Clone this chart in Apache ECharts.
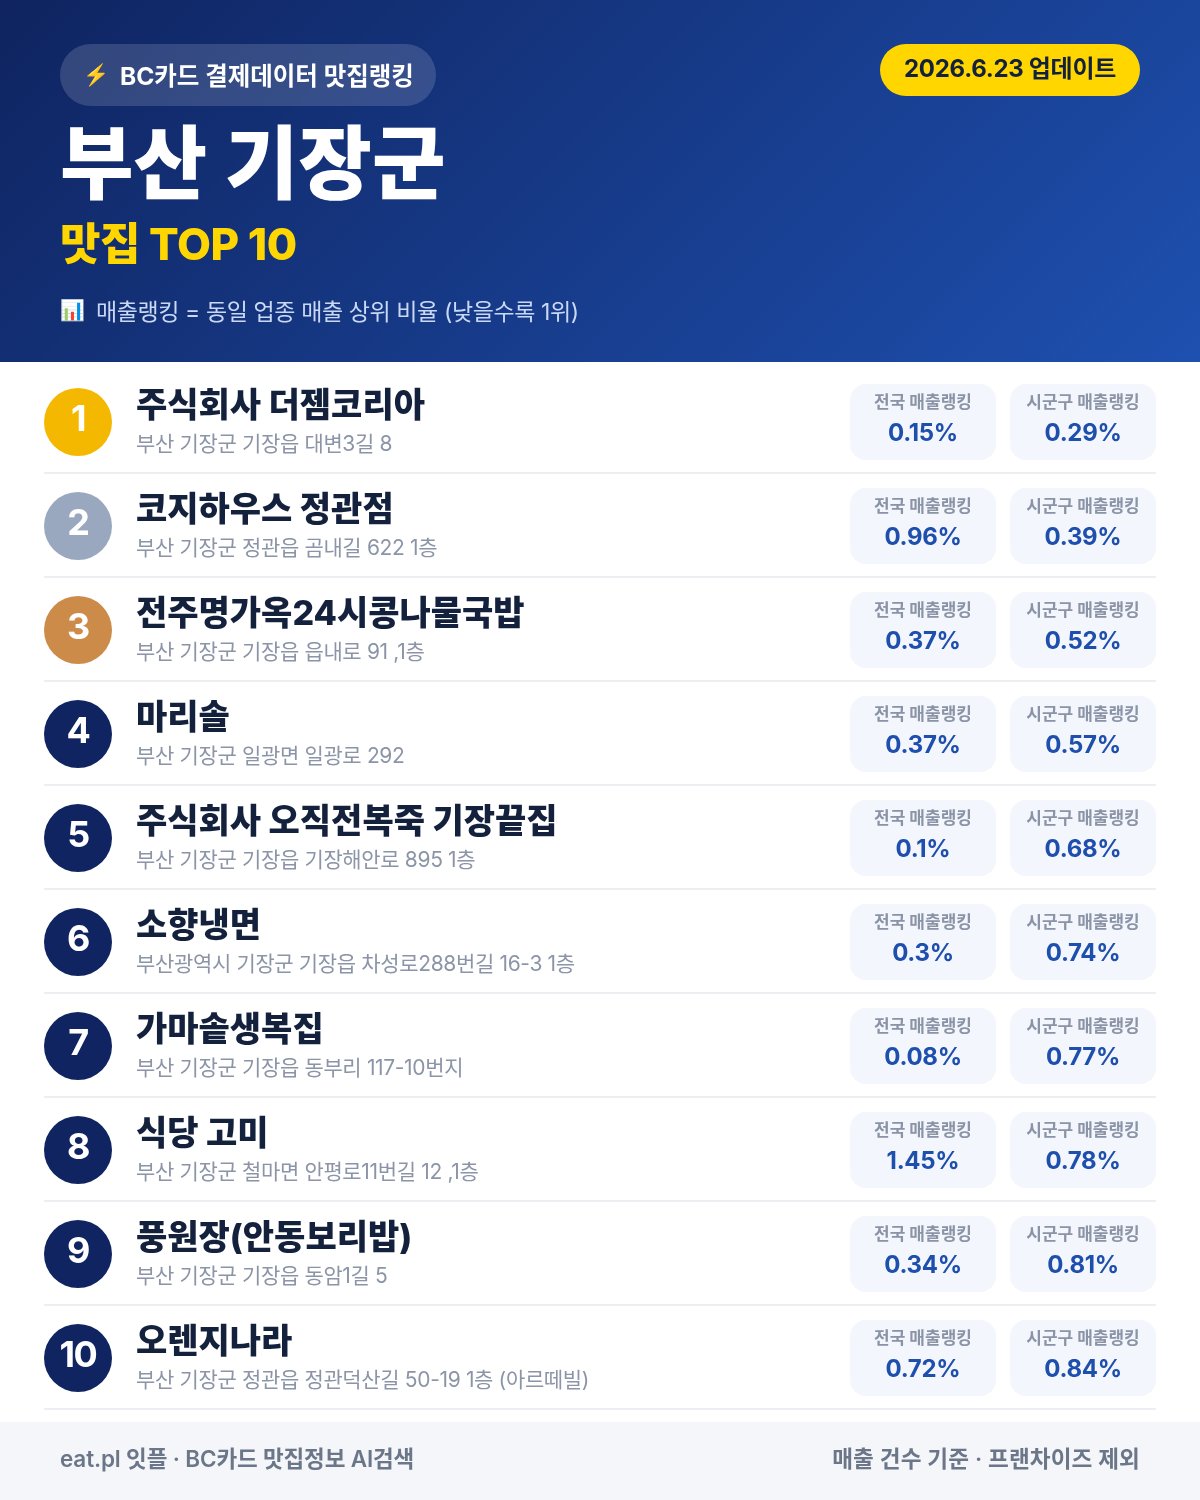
<!DOCTYPE html>
<html><head><meta charset="utf-8">
<style>html,body{margin:0;padding:0;background:#fff}#c{width:1200px;height:1500px}</style>
<script src="https://cdn.jsdelivr.net/npm/echarts@6/dist/echarts.min.js"></script>
</head><body><div id="c"></div>
<script>
const ranks = ['1','2','3','4','5','6','7','8','9','10'];
const names = ['주식회사 더젬코리아','코지하우스 정관점','전주명가옥24시콩나물국밥','마리솔','주식회사 오직전복죽 기장끝집','소향냉면','가마솥생복집','식당 고미','풍원장(안동보리밥)','오렌지나라'];
const addresses = ['부산 기장군 기장읍 대변3길 8','부산 기장군 정관읍 곰내길 622 1층','부산 기장군 기장읍 읍내로 91 ,1층','부산 기장군 일광면 일광로 292','부산 기장군 기장읍 기장해안로 895 1층','부산광역시 기장군 기장읍 차성로288번길 16-3 1층','부산 기장군 기장읍 동부리 117-10번지','부산 기장군 철마면 안평로11번길 12 ,1층','부산 기장군 기장읍 동암1길 5','부산 기장군 정관읍 정관덕산길 50-19 1층 (아르떼빌)'];
const nationalRank = ['0.15%','0.96%','0.37%','0.37%','0.1%','0.3%','0.08%','1.45%','0.34%','0.72%'];
const districtRank = ['0.29%','0.39%','0.52%','0.57%','0.68%','0.74%','0.77%','0.78%','0.81%','0.84%'];
const badgeColors = ['#F5B800','#9AA8BF','#CD8B4A','#0F2460','#0F2460','#0F2460','#0F2460','#0F2460','#0F2460','#0F2460'];
const FONT = 'Inter,"Noto Sans CJK KR",sans-serif';

// tracking per text size, as in the reference
const tracking = { 36: -1.4, 44: -0.5, 24: -0.3, 23: -0.4, 22.5: -0.15, 22.6: 0.1, 21: -0.35 };
const _ft = CanvasRenderingContext2D.prototype.fillText;
CanvasRenderingContext2D.prototype.fillText = function (t, x, y, m) {
  const mt = /(\d+(?:\.\d+)?)px/.exec(this.font);
  const s = mt ? parseFloat(mt[1]) : 12;
  this.letterSpacing = (tracking[s] || 0) + 'px';
  return m === undefined ? _ft.call(this, t, x, y) : _ft.call(this, t, x, y, m);
};

function txt(x, y, text, size, weight, fill, align) {
  return { type: 'text', x, y, style: { text, x: 0, y: 0, fontFamily: FONT, fontSize: size, fontWeight: weight, fill, align: align || 'left', verticalAlign: 'middle' } };
}
function pill(x, cy, label, value) {
  return { type: 'group', children: [
    { type: 'rect', shape: { x, y: cy - 38, width: 146, height: 76, r: 16 }, style: { fill: '#F3F6FD' } },
    txt(x + 73, cy - 19, label, 17, 700, '#8A94A6', 'center'),
    txt(x + 73, cy + 12, value, 24, 700, '#1E4FAD', 'center')
  ]};
}
const chart = echarts.init(document.getElementById('c'), null, { width: 1200, height: 1500, renderer: 'canvas' });
chart.setOption({
  animation: false,
  backgroundColor: '#fff',
  grid: { left: 0, top: 370, width: 1200, height: 1040 },
  xAxis: { type: 'value', min: 0, max: 1200, show: false },
  yAxis: { type: 'category', data: ranks, inverse: true, show: false },
  graphic: [
    { type: 'rect', z: 0, shape: { x: 0, y: 0, width: 1200, height: 362 },
      style: { fill: new echarts.graphic.LinearGradient(209.5, -209.5, 990.5, 571.5, [{ offset: 0, color: '#0F2460' }, { offset: 1, color: '#1E50B0' }], true) } },
    { type: 'rect', z: 1, shape: { x: 60, y: 44, width: 376, height: 62, r: 31 }, style: { fill: 'rgba(255,255,255,0.15)' } },
    Object.assign(txt(83, 76, '⚡', 21, 400, '#FFD600'), { z: 2 }),
    Object.assign(txt(120, 78, 'BC카드 결제데이터 맛집랭킹', 24.5, 700, '#fff'), { z: 2 }),
    { type: 'rect', z: 1, shape: { x: 880, y: 44, width: 260, height: 52, r: 26 }, style: { fill: '#FFD600' } },
    Object.assign(txt(1010, 70, '2026.6.23 업데이트', 24, 700, '#14213D', 'center'), { z: 2 }),
    Object.assign(txt(60, 168, '부산 기장군', 80, 800, '#fff'), { z: 2 }),
    Object.assign(txt(60, 247, '맛집 TOP 10', 44, 800, '#FFD600'), { z: 2 }),
    Object.assign(txt(60, 311, '📊', 20, 400, '#fff'), { z: 2 }),
    Object.assign(txt(96, 313, '매출랭킹 = 동일 업종 매출 상위 비율 (낮을수록 1위)', 23, 400, '#C9D8F5'), { z: 2 }),
    { type: 'rect', z: 0, shape: { x: 0, y: 1422, width: 1200, height: 78 }, style: { fill: '#F4F6FA' } },
    Object.assign(txt(60, 1460, 'eat.pl 잇플 · BC카드 맛집정보 AI검색', 22.5, 600, '#6B7688'), { z: 2 }),
    Object.assign(txt(1140, 1460, '매출 건수 기준 · 프랜차이즈 제외', 22.6, 600, '#6B7688', 'right'), { z: 2 })
  ],
  series: [{
    type: 'custom',
    coordinateSystem: 'cartesian2d',
    encode: { x: 0, y: 1 },
    data: ranks.map((r, i) => [0, r]),
    renderItem(params, api) {
      const i = params.dataIndex;
      const cy = api.coord([0, i])[1];
      return { type: 'group', children: [
        { type: 'rect', shape: { x: 44, y: cy + 50, width: 1112, height: 2 }, style: { fill: '#ECEEF2' } },
        { type: 'circle', shape: { cx: 78, cy, r: 34 }, style: { fill: badgeColors[i] } },
        txt(78, cy - 2, ranks[i], 36, 700, '#fff', 'center'),
        txt(136, cy - 15, names[i], 34, 800, '#14213D'),
        txt(136, cy + 23, addresses[i], 21, 400, '#8B95A7'),
        pill(850, cy, '전국 매출랭킹', nationalRank[i]),
        pill(1010, cy, '시군구 매출랭킹', districtRank[i])
      ]};
    }
  }]
});
</script></body></html>
